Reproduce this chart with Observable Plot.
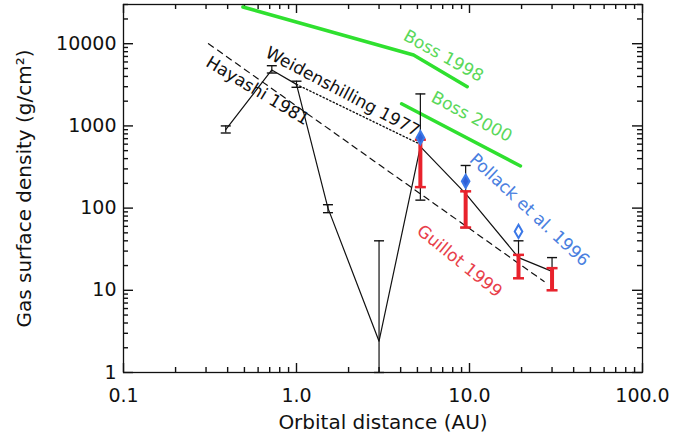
<!DOCTYPE html>
<html><head><meta charset="utf-8">
<script src="https://cdn.jsdelivr.net/npm/d3@7"></script>
<script src="https://cdn.jsdelivr.net/npm/@observablehq/plot@0.6"></script>
<style>body{margin:0;background:#fff}</style>
</head><body><div id="chart"></div>
<script>
// Solar-system gas surface density (black solid line with error bars)
const planets = ["Mercury","Venus","Earth","Mars","Asteroids","Jupiter","Saturn","Uranus","Neptune"];
const distance = [0.39, 0.72, 1.0, 1.52, 3.0, 5.2, 9.5, 19.2, 30];
const density  = [900, 4800, 3200, 100, 2.4, 560, 150, 25, 17];
const errLow   = [820, 4400, 2950, 88, 1, 125, 58, 14, 10];
const errHigh  = [1000, 5400, 3500, 110, 40, 2450, 330, 40, 25];

// Guillot 1999 (red error bars)
const guillotX    = [5.2, 9.5, 19.2, 30];
const guillotLow  = [180, 58, 14, 10];
const guillotHigh = [680, 160, 27, 18.6];

// Pollack et al. 1996 (blue diamonds)
const pollackX = [5.2, 9.5, 19.2];
const pollackY = [720, 212, 52];
const pollackFilled = [true, true, false];

// Model curves
const hayashiX = [0.31, 27];        const hayashiY = [10000, 12.8];
const weidX    = [1.0, 5.0];        const weidY    = [3200, 620];
const boss98X  = [0.49, 4.75, 9.7]; const boss98Y  = [28000, 7300, 3000];
const boss00X  = [4.05, 19.7];      const boss00Y  = [1860, 325];

// Curve labels
const labelText  = ["Boss 1998","Boss 2000","Pollack et al. 1996","Guillot 1999","Weidenshilling 1977","Hayashi 1981"];
const labelX     = [7.07, 10.3, 22.2, 8.75, 1.85, 0.595];
const labelY     = [7100, 1290, 95, 22.6, 2600, 2670];
const labelAngle = [29, 28, 43, 39, 28, 31];
const labelColor = ["#5ad85a","#5ad85a","#4a80e0","#e8404a","#111","#111"];

// Axes
const xMajor = [0.1, 1, 10, 100];
const xTickLabels = ["0.1","1.0","10.0","100.0"];
const yMajor = [1, 10, 100, 1000, 10000];
const yTickLabels = ["1","10","100","1000","10000"];
const xTitle = "Orbital distance (AU)";
const yTitle = "Gas surface density (g/cm\u00B2)";

const xMinor = [0.1, 1, 10].flatMap(d => d3.range(2, 10).map(k => k * d));
const yMinor = [1, 10, 100, 1000, 10000].flatMap(d => d3.range(2, 10).map(k => k * d)).filter(v => v <= 30000);

const line = (X, Y) => X.map((x, i) => ({x, y: Y[i]}));
const planetData = planets.map((p, i) => ({p, x: distance[i], y: density[i], lo: errLow[i], hi: errHigh[i]}));
const guillot = guillotX.map((x, i) => ({x, lo: guillotLow[i], hi: guillotHigh[i]}));
const pollack = pollackX.map((x, i) => ({x, y: pollackY[i], filled: pollackFilled[i]}));
const labels = labelText.map((t, i) => ({t, x: labelX[i], y: labelY[i], a: labelAngle[i], c: labelColor[i]}));

const xFmt = new Map(xMajor.map((d, i) => [d, xTickLabels[i]]));
const yFmt = new Map(yMajor.map((d, i) => [d, yTickLabels[i]]));

const cap = {draw(ctx, size) { const w = Math.sqrt(size / Math.PI); ctx.moveTo(-w, 0); ctx.lineTo(w, 0); }};

const green = "#2fe02f", red = "#e8222c", blue = "#3b78e7";

const W = 673, H = 438, mL = 123, mR = 31, mT = 4, mB = 66;
const fw = W - mL - mR, fh = H - mT - mB;
// inward ticks (IDL style) as short rules inset from the opposite side of the frame
const tickStyle = {stroke: "#111", strokeWidth: 1.4};
const ticksX = (t, len) => [
  Plot.ruleX(t, {x: d => d, insetTop: fh - len, ...tickStyle}),
  Plot.ruleX(t, {x: d => d, insetBottom: fh - len, ...tickStyle})
];
const ticksY = (t, len) => [
  Plot.ruleY(t, {y: d => d, insetRight: fw - len, ...tickStyle}),
  Plot.ruleY(t, {y: d => d, insetLeft: fw - len, ...tickStyle})
];

const chart = Plot.plot({
  width: W, height: H,
  marginLeft: mL, marginRight: mR, marginTop: mT, marginBottom: mB,
  style: {fontFamily: "DejaVu Sans", background: "white", color: "#111", overflow: "visible"},
  x: {type: "log", domain: [0.1, 100], axis: null},
  y: {type: "log", domain: [1, 30000], axis: null},
  marks: [
    ...ticksX(xMajor, 9), ...ticksX(xMinor, 5),
    ...ticksY(yMajor, 10), ...ticksY(yMinor, 5),
    Plot.axisX(xMajor, {anchor: "bottom", tickSize: 0, tickPadding: 16, fontSize: 19, tickFormat: d => xFmt.get(d), label: null}),
    Plot.axisY(yMajor, {anchor: "left", tickSize: 0, tickPadding: 7, fontSize: 19, tickFormat: d => yFmt.get(d), label: null}),
    Plot.text([xTitle], {text: d => d, frameAnchor: "bottom", lineAnchor: "middle", textAnchor: "middle", dy: 50, fontSize: 20}),
    Plot.text([yTitle], {text: d => d, frameAnchor: "left", lineAnchor: "middle", textAnchor: "middle", dx: -99, rotate: -90, fontSize: 20}),

    // model curves
    Plot.line(line(boss98X, boss98Y), {x: "x", y: "y", stroke: green, strokeWidth: 3.5}),
    Plot.line(line(boss00X, boss00Y), {x: "x", y: "y", stroke: green, strokeWidth: 3.5}),
    Plot.line(line(hayashiX, hayashiY), {x: "x", y: "y", stroke: "#111", strokeWidth: 1.2, strokeDasharray: "6,5"}),
    Plot.line(line(weidX, weidY), {x: "x", y: "y", stroke: "#111", strokeWidth: 1.4, strokeDasharray: "1.3,2.4"}),

    // planets
    Plot.line(planetData, {x: "x", y: "y", stroke: "#111", strokeWidth: 1.2}),
    Plot.ruleX(planetData, {x: "x", y1: "lo", y2: "hi", stroke: "#111", strokeWidth: 1.2}),
    Plot.dot(planetData, {x: "x", y: "lo", symbol: cap, r: 5, stroke: "#111", strokeWidth: 1.4}),
    Plot.dot(planetData, {x: "x", y: "hi", symbol: cap, r: 5, stroke: "#111", strokeWidth: 1.4}),

    // Guillot 1999
    Plot.ruleX(guillot, {x: "x", y1: "lo", y2: "hi", stroke: red, strokeWidth: 4}),
    Plot.dot(guillot, {x: "x", y: "lo", symbol: cap, r: 5.5, stroke: red, strokeWidth: 2.5}),
    Plot.dot(guillot, {x: "x", y: "hi", symbol: cap, r: 5.5, stroke: red, strokeWidth: 2.5}),

    // Pollack 1996
    Plot.dot(pollack, {x: "x", y: "y", symbol: "diamond", r: 4, stroke: blue, strokeWidth: 2,
      fill: d => d.filled ? "#2f5fd8" : "white"}),

    // labels
    Plot.text(labels, {x: "x", y: "y", text: "t", rotate: "a", fill: "c", fontSize: 17}),

    Plot.frame({stroke: "#111", strokeWidth: 1.3})
  ]
});
document.getElementById("chart").appendChild(chart);
</script>
</body></html>
